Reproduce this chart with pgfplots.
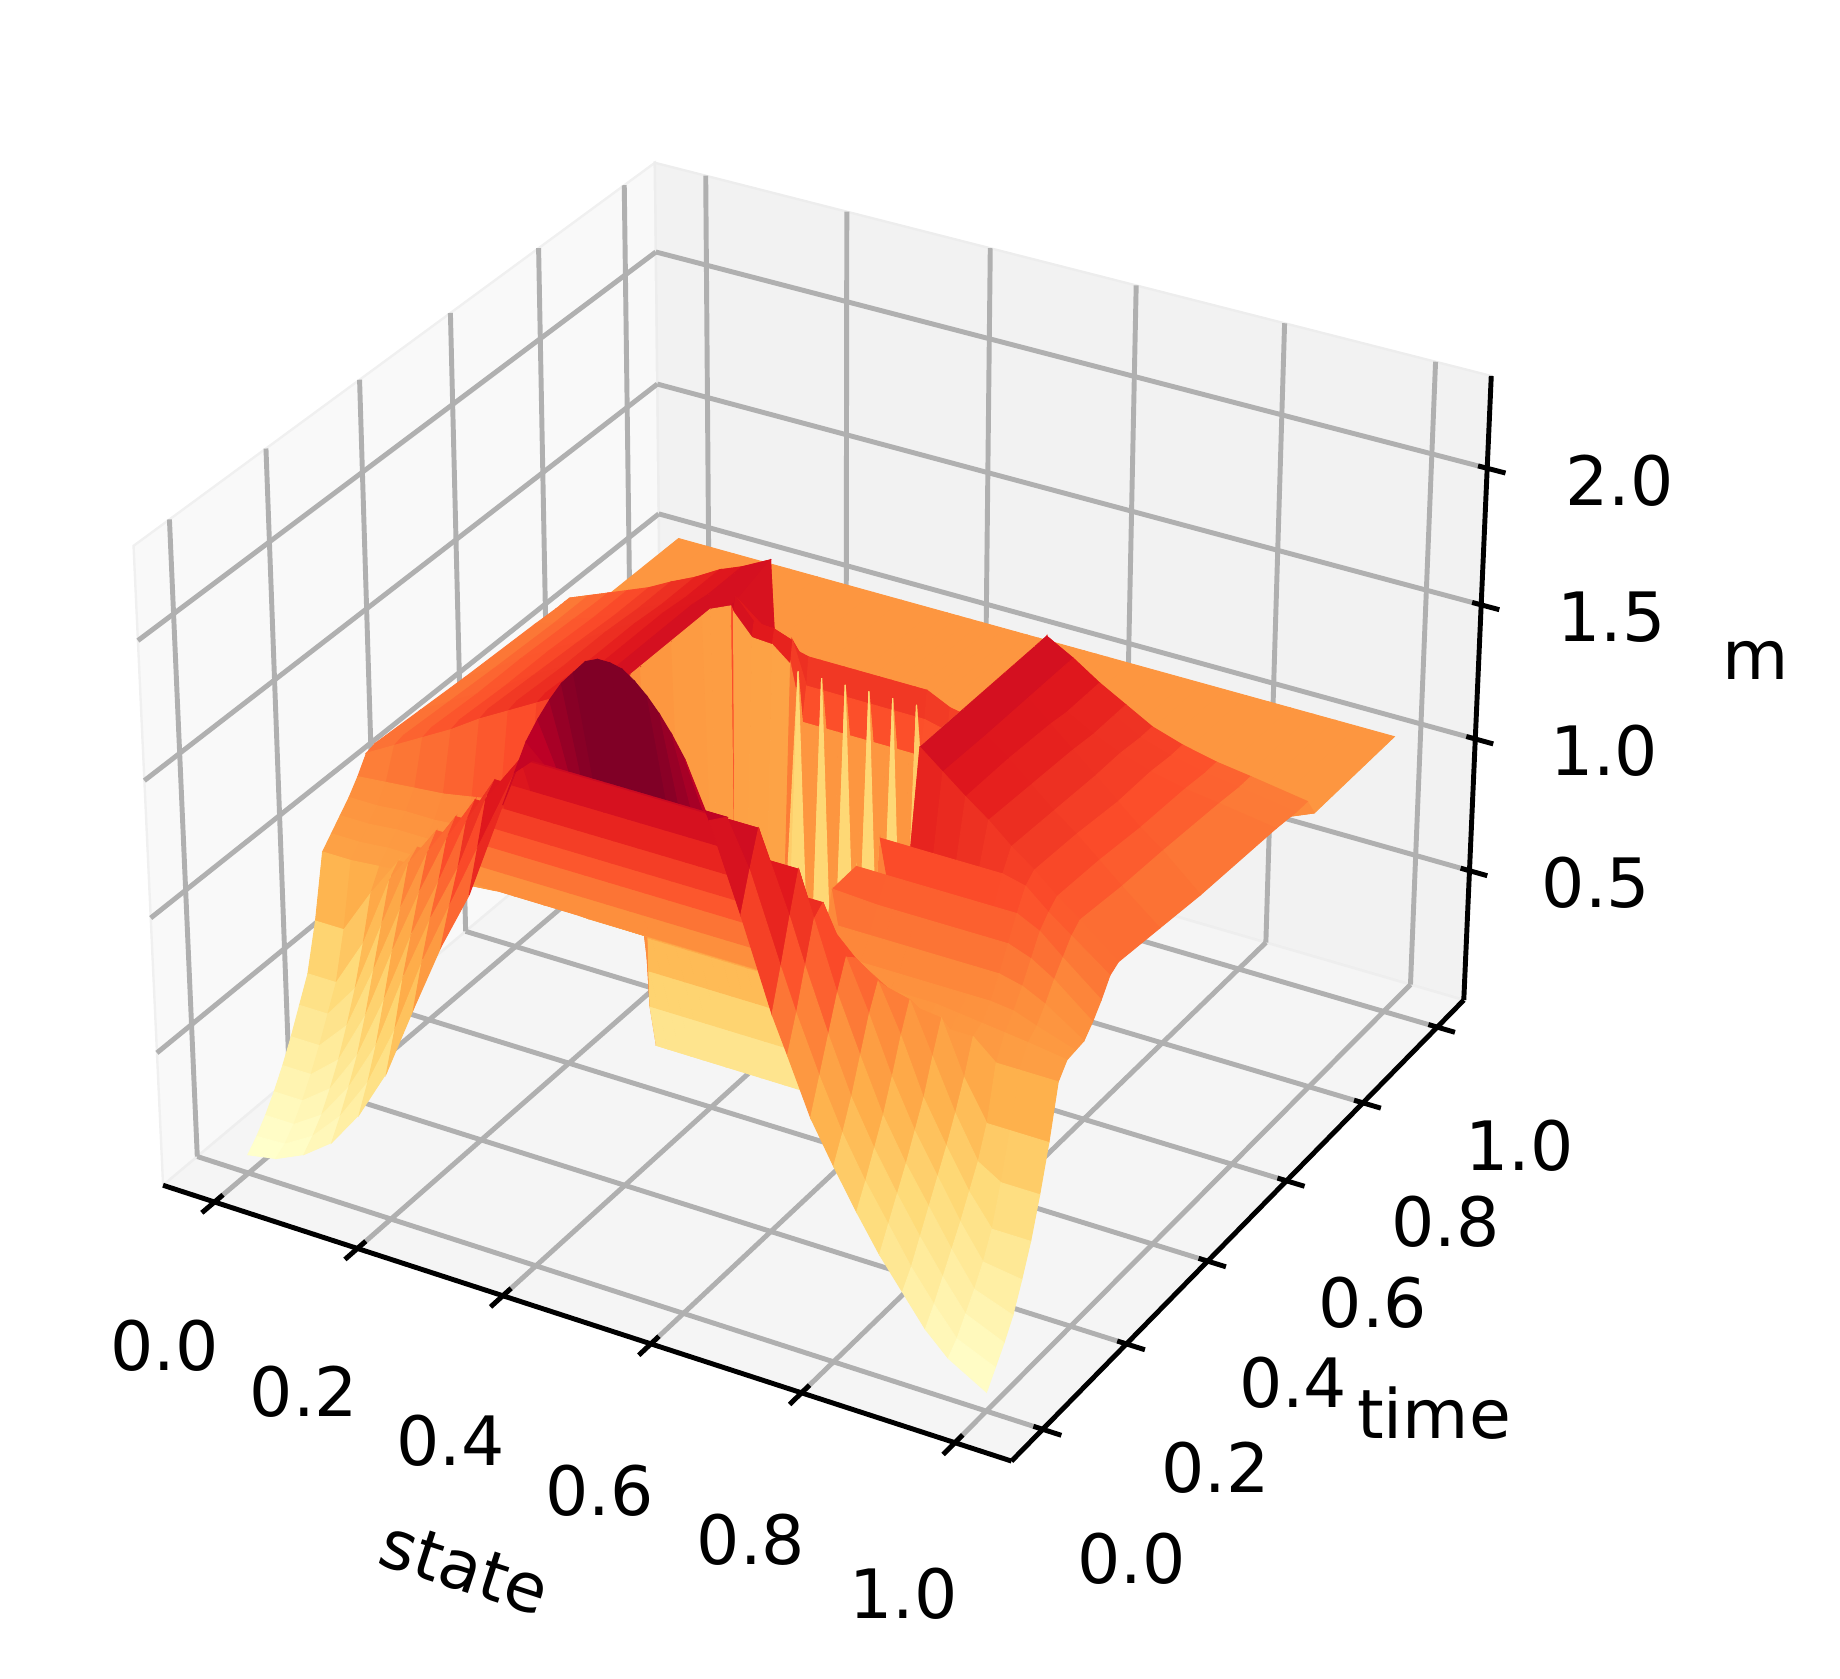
\documentclass[border=0pt]{standalone}
\usepackage{fontspec}
\setmainfont{DejaVu Sans}
\usepackage{pgfplots}
\usepackage{pgfplotstable}
\pgfplotsset{compat=1.18}
% matplotlib's perspective view (elev 30, azim -60), in pixels of the 1568x1430 frame
\newcommand\PX[3]{703+7250*(.8638*((#1)-.5)+.4987*((#2)-.5))/(10-(.4319*((#1)-.5)-.7481*((#2)-.5)+.5*(.36735*(#3)-.42857)))}
\newcommand\PY[3]{666.3-7250*(-.2494*((#1)-.5)+.4319*((#2)-.5)+.866*(.36735*(#3)-.42857))/(10-(.4319*((#1)-.5)-.7481*((#2)-.5)+.5*(.36735*(#3)-.42857)))}
\pgfkeys{/pgfplots/table/proj/.style={x expr={\PX{\thisrow{x}}{\thisrow{y}}{\thisrow{z}}},y expr={\PY{\thisrow{x}}{\thisrow{y}}{\thisrow{z}}}}}
\newcommand\seg[7]{\addplot[#1] table[row sep=\\,proj] {x y z\\ #2 #3 #4\\ #5 #6 #7\\};}
\newcommand\pane[3]{\addplot[fill=#1,draw=#2,line width=1pt] table[row sep=\\,proj] {x y z\\ #3};}
\definecolor{gridc}{RGB}{176,176,176}
\tikzset{tl/.style={font=\fontsize{29}{35}\selectfont}}
\pgfplotstableread{
x y z
0 1 1.05
.04 1 1.05
.08 1 1.05
.12 1 1.05
.16 1 1.05
.2 1 1.05
.24 1 1.05
.28 1 1.05
.32 1 1.05
.368 1 1.05
.385 1 1.05
.401 1 1.05
.417 1 1.05
.433 1 1.05
.449 1 1.05
.465 1 1.05
.481 1 1.05
.497 1 1.05
.513 1 1.05
.529 1 1.05
.545 1 1.05
.561 1 1.05
.577 1 1.05
.593 1 1.05
.609 1 1.05
.64 1 1.05
.68 1 1.05
.72 1 1.05
.74 1 1.05
.77 1 1.05
.80 1 1.05
.83 1 1.05
.86 1 1.05
.89 1 1.05
.92 1 1.05
.95 1 1.05
1 1 1.05
0 .76 1.05
.04 .74 1.05
.08 .72 1.05
.12 .70 1.05
.16 .685 1.05
.2 .67 1.05
.24 .66 1.05
.28 .65 1.05
.32 .635 1.05
.368 .62 1.05
.385 .61 1.05
.401 .59 1.05
.417 .59 1.05
.433 .59 1.05
.449 .58 1.05
.465 .58 1.05
.481 .58 1.05
.497 .58 1.05
.513 .58 1.05
.529 .58 1.05
.545 .58 1.05
.561 .58 1.05
.577 .58 1.05
.593 .58 1.05
.609 .58 1.05
.64 .58 1.05
.68 .58 1.05
.72 .58 1.05
.74 .62 1.05
.77 .63 1.05
.80 .64 1.05
.83 .65 1.05
.86 .66 1.05
.89 .68 1.05
.92 .71 1.05
.95 .74 1.05
1 .79 1.05
0 .74 1.155
.04 .72 1.22
.08 .70 1.285
.12 .68 1.35
.16 .665 1.41
.2 .65 1.48
.24 .64 1.54
.28 .63 1.61
.32 .615 1.67
.368 .60 1.75
.385 .58 1.5
.401 .56 1.55
.417 .56 1.52
.433 .555 1.52
.449 .55 1.52
.465 .55 1.52
.481 .55 1.52
.497 .55 1.52
.513 .55 1.52
.529 .55 1.52
.545 .55 1.52
.561 .55 1.52
.577 .55 1.52
.593 .55 1.52
.609 .55 1.52
.64 .55 1.48
.68 .55 1.46
.72 .55 1.44
.74 .60 1.75
.77 .61 1.68
.80 .62 1.60
.83 .63 1.53
.86 .64 1.46
.89 .66 1.39
.92 .69 1.31
.95 .72 1.24
1 .77 1.12
0 .73 1.155
.04 .71 1.22
.08 .69 1.285
.12 .67 1.35
.16 .655 1.41
.2 .64 1.48
.24 .63 1.54
.28 .62 1.61
.32 .605 1.67
.3845 .49 1.75
.385 .49 1.77
.401 .505 1.67
.417 .525 1.63
.433 .54 1.58
.449 .545 1.42
.465 .545 1.42
.481 .545 1.42
.497 .545 1.42
.513 .545 1.42
.529 .545 1.42
.545 .545 1.42
.561 .545 1.42
.577 .545 1.42
.593 .545 1.42
.609 .545 1.42
.64 .545 1.40
.68 .545 1.38
.72 .545 1.36
.74 .59 1.75
.77 .60 1.68
.80 .61 1.60
.83 .62 1.53
.86 .63 1.46
.89 .65 1.39
.92 .68 1.31
.95 .71 1.24
1 .76 1.12
0 .72 1.155
.04 .70 1.22
.08 .68 1.285
.12 .66 1.35
.16 .645 1.41
.2 .63 1.48
.24 .62 1.54
.28 .61 1.61
.32 .595 1.67
.3845 .48 1.75
.385 .485 1.72
.401 .50 1.62
.417 .52 1.58
.433 .535 1.5
.449 .535 1.3
.465 .535 1.3
.481 .535 1.3
.497 .535 1.3
.513 .535 1.3
.529 .535 1.3
.545 .535 1.3
.561 .535 1.3
.577 .535 1.3
.593 .535 1.3
.609 .535 1.3
.64 .535 1.28
.68 .535 1.28
.72 .535 1.28
.74 .58 1.75
.77 .59 1.68
.80 .60 1.60
.83 .61 1.53
.86 .62 1.46
.89 .64 1.39
.92 .67 1.31
.95 .70 1.24
1 .75 1.12
0 .71 1.155
.04 .69 1.22
.08 .67 1.285
.12 .65 1.35
.16 .635 1.41
.2 .62 1.48
.24 .61 1.54
.28 .60 1.61
.32 .585 1.67
.3845 .479 1.75
.385 .484 .25
.401 .48 .3
.417 .50 .35
.433 .515 .4
.449 .525 1.5
.465 .525 .1
.481 .525 1.5
.497 .525 .1
.513 .525 1.5
.529 .525 .1
.545 .525 1.5
.561 .525 .1
.577 .525 1.5
.593 .525 .1
.609 .525 1.5
.64 .525 .4
.68 .525 .4
.72 .525 .4
.74 .57 1.75
.77 .58 1.68
.80 .59 1.60
.83 .60 1.53
.86 .61 1.46
.89 .63 1.39
.92 .66 1.31
.95 .69 1.24
1 .74 1.12
0 .66 1.16
.04 .64 1.22
.08 .62 1.29
.12 .60 1.35
.16 .585 1.41
.2 .57 1.48
.24 .56 1.54
.28 .55 1.61
.32 .535 1.67
.368 .46 1.75
.385 .45 .25
.401 .47 .3
.417 .485 .35
.433 .495 .4
.449 .50 .42
.465 .50 .42
.481 .50 .42
.497 .50 .42
.513 .50 .42
.529 .50 .42
.545 .50 .42
.561 .50 .42
.577 .50 .42
.593 .50 .42
.609 .50 .42
.64 .50 .42
.68 .50 .42
.72 .50 .42
.74 .52 1.75
.77 .53 1.68
.80 .54 1.60
.83 .55 1.53
.86 .56 1.47
.89 .58 1.40
.92 .61 1.32
.95 .64 1.25
1 .69 1.13
0 .5 1.17
.04 .5 1.23
.08 .5 1.30
.12 .5 1.36
.16 .5 1.42
.2 .5 1.49
.24 .5 1.55
.28 .5 1.62
.32 .5 1.68
.368 .44 1.75
.385 .44 .25
.401 .44 .40
.417 .44 .40
.433 .44 .40
.449 .44 .40
.465 .44 .40
.481 .44 .40
.497 .44 .40
.513 .44 .40
.529 .44 .40
.545 .44 .40
.561 .44 .40
.577 .44 .40
.593 .44 .40
.609 .44 .40
.64 .44 .40
.68 .44 .40
.72 .44 .40
.74 .5 1.75
.77 .5 1.68
.80 .5 1.61
.83 .5 1.54
.86 .5 1.47
.89 .5 1.40
.92 .5 1.33
.95 .5 1.27
1 .5 1.15
0 .4 1.18
.04 .4 1.24
.08 .4 1.30
.12 .4 1.36
.16 .4 1.43
.2 .4 1.49
.24 .4 1.55
.28 .4 1.62
.32 .4 1.68
.368 .37 1.75
.385 .37 .3
.401 .37 .38
.417 .37 .38
.433 .37 .38
.449 .37 .38
.465 .37 .38
.481 .37 .38
.497 .37 .38
.513 .37 .38
.529 .37 .38
.545 .37 .38
.561 .37 .38
.577 .37 .38
.593 .37 .38
.609 .37 .38
.64 .37 .38
.68 .37 .38
.72 .37 .38
.74 .4 1.75
.77 .4 1.68
.80 .4 1.62
.83 .4 1.55
.86 .4 1.48
.89 .4 1.42
.92 .4 1.35
.95 .4 1.28
1 .4 1.17
0 .3 1.19
.04 .3 1.25
.08 .3 1.31
.12 .3 1.37
.16 .3 1.44
.2 .3 1.50
.24 .3 1.56
.28 .3 1.62
.32 .3 1.68
.368 .3 1.75
.385 .3 .37
.401 .3 .37
.417 .3 .37
.433 .3 .37
.449 .3 .37
.465 .3 .37
.481 .3 .37
.497 .3 .37
.513 .3 .37
.529 .3 .37
.545 .3 .37
.561 .3 .37
.577 .3 .37
.593 .3 .37
.609 .3 .37
.64 .3 .37
.68 .3 .37
.72 .3 .37
.74 .3 1.75
.77 .3 1.685
.80 .3 1.62
.83 .3 1.56
.86 .3 1.49
.89 .3 1.43
.92 .3 1.36
.95 .3 1.30
1 .3 1.19
0 .28 1.18
.04 .28 1.24
.08 .28 1.30
.12 .28 1.36
.16 .28 1.43
.2 .28 1.49
.24 .28 1.55
.28 .28 1.61
.32 .28 1.67
.368 .28 1.75
.389 .28 .55
.401 .28 .55
.417 .28 .55
.433 .28 .55
.449 .28 .55
.465 .28 .55
.481 .28 .55
.497 .28 .55
.513 .28 .55
.529 .28 .55
.545 .28 .55
.561 .28 .55
.577 .28 .55
.593 .28 .55
.609 .28 .55
.64 .28 .55
.68 .28 .55
.70 .28 1.42
.74 .28 1.42
.77 .28 1.42
.80 .28 1.42
.83 .28 1.42
.86 .28 1.42
.89 .28 1.40
.92 .28 1.33
.95 .28 1.27
1 .28 1.17
0 .26 1.12
.04 .26 1.13
.08 .26 1.14
.12 .26 1.15
.16 .26 1.17
.2 .26 1.19
.24 .26 1.23
.28 .26 1.29
.32 .26 1.37
.368 .26 1.5
.40 .26 .72
.401 .26 .72
.417 .26 .72
.433 .26 .72
.449 .26 .72
.465 .26 .72
.481 .26 .72
.497 .26 .72
.513 .26 .72
.529 .26 .72
.545 .26 .72
.561 .26 .72
.577 .26 .72
.593 .26 .72
.609 .26 .72
.64 .26 .72
.68 .26 1.33
.72 .26 1.33
.74 .26 1.33
.77 .26 1.33
.80 .26 1.33
.83 .26 1.33
.86 .26 1.33
.89 .26 1.33
.92 .26 1.29
.95 .26 1.22
1 .26 1.11
0 .24 1.07
.04 .24 1.07
.08 .24 1.08
.12 .24 1.08
.16 .24 1.09
.2 .24 1.11
.24 .24 1.14
.28 .24 1.18
.32 .24 1.23
.368 .24 1.3
.412 .24 .88
.412 .24 .88
.417 .24 .88
.433 .24 .88
.449 .24 .88
.465 .24 .88
.481 .24 .88
.497 .24 .88
.513 .24 .88
.529 .24 .88
.545 .24 .88
.561 .24 .88
.577 .24 .88
.593 .24 .88
.609 .24 .88
.64 .24 .88
.66 .24 1.26
.72 .24 1.25
.74 .24 1.25
.77 .24 1.25
.80 .24 1.25
.83 .24 1.25
.86 .24 1.25
.89 .24 1.25
.92 .24 1.22
.95 .24 1.17
1 .24 1.06
0 .22 1.03
.04 .22 1.03
.08 .22 1.04
.12 .22 1.04
.16 .22 1.05
.2 .22 1.06
.24 .22 1.08
.28 .22 1.11
.32 .22 1.14
.368 .22 1.18
.423 .22 .94
.423 .22 .94
.423 .22 .94
.433 .22 .94
.449 .22 .94
.465 .22 .94
.481 .22 .94
.497 .22 .94
.513 .22 .94
.529 .22 .94
.545 .22 .94
.561 .22 .94
.577 .22 .94
.593 .22 .94
.609 .22 .94
.64 .22 1.18
.68 .22 1.17
.72 .22 1.17
.74 .22 1.17
.77 .22 1.17
.80 .22 1.17
.83 .22 1.17
.86 .22 1.17
.89 .22 1.17
.92 .22 1.15
.95 .22 1.11
1 .22 1.02
0 .20 .99
.04 .20 .99
.08 .20 1.0
.12 .20 1.0
.16 .20 1.01
.2 .20 1.02
.24 .20 1.04
.28 .20 1.06
.32 .20 1.08
.368 .20 1.08
.435 .20 .97
.435 .20 .97
.435 .20 .97
.435 .20 .97
.449 .20 .97
.465 .20 .97
.481 .20 .97
.497 .20 .97
.513 .20 .97
.529 .20 .97
.545 .20 .97
.561 .20 .97
.577 .20 .97
.593 .20 .97
.609 .20 .97
.62 .20 1.10
.68 .20 1.10
.72 .20 1.10
.74 .20 1.10
.77 .20 1.10
.80 .20 1.10
.83 .20 1.10
.86 .20 1.10
.89 .20 1.10
.92 .20 1.09
.95 .20 1.06
1 .20 1.015
0 .18 .95
.04 .18 .95
.08 .18 .96
.12 .18 .97
.16 .18 .98
.2 .18 .99
.24 .18 1.0
.28 .18 1.02
.32 .18 1.03
.368 .18 1.0
.446 .18 1.0
.446 .18 1.0
.446 .18 1.0
.446 .18 1.0
.449 .18 1.0
.465 .18 1.0
.481 .18 1.0
.497 .18 1.0
.513 .18 1.0
.529 .18 1.0
.545 .18 1.0
.561 .18 1.0
.577 .18 1.0
.593 .18 1.0
.609 .18 1.05
.64 .18 1.06
.68 .18 1.07
.72 .18 1.07
.74 .18 1.07
.77 .18 1.07
.80 .18 1.07
.83 .18 1.07
.86 .18 1.06
.89 .18 1.05
.92 .18 1.04
.95 .18 1.03
1 .18 1.01
0 .16 .72
.04 .16 .72
.08 .16 .89
.12 .16 1.04
.16 .16 1.04
.2 .16 1.04
.24 .16 1.04
.28 .16 1.04
.32 .16 1.04
.368 .16 1.04
.385 .16 1.04
.401 .16 1.04
.417 .16 1.04
.433 .16 1.04
.449 .16 1.04
.465 .16 1.04
.481 .16 1.04
.497 .16 1.04
.513 .16 1.04
.529 .16 1.04
.545 .16 1.04
.561 .16 1.04
.577 .16 1.04
.593 .16 1.04
.609 .16 1.04
.64 .16 1.04
.68 .16 1.04
.72 .16 1.04
.74 .16 1.04
.77 .16 1.04
.80 .16 1.04
.83 .16 1.04
.86 .16 1.03
.89 .16 1.03
.92 .16 .96
.95 .16 .96
1 .16 .96
0 .14 .55
.04 .14 .55
.08 .14 .73
.12 .14 1.0
.16 .14 1.15
.2 .14 1.15
.24 .14 1.15
.28 .14 1.15
.32 .14 1.15
.368 .14 1.15
.385 .14 1.15
.401 .14 1.15
.417 .14 1.15
.433 .14 1.15
.449 .14 1.15
.465 .14 1.15
.481 .14 1.15
.497 .14 1.15
.513 .14 1.15
.529 .14 1.15
.545 .14 1.15
.561 .14 1.15
.577 .14 1.15
.593 .14 1.15
.609 .14 1.15
.64 .14 1.15
.68 .14 1.15
.72 .14 1.15
.74 .14 1.15
.77 .14 1.15
.80 .14 1.13
.83 .14 1.11
.86 .14 1.10
.89 .14 .91
.92 .14 .77
.95 .14 .77
1 .14 .77
0 .12 .46
.04 .12 .46
.08 .12 .59
.12 .12 .86
.16 .12 1.12
.2 .12 1.27
.24 .12 1.27
.28 .12 1.27
.32 .12 1.27
.368 .12 1.27
.385 .12 1.27
.401 .12 1.27
.417 .12 1.27
.433 .12 1.27
.449 .12 1.27
.465 .12 1.27
.481 .12 1.27
.497 .12 1.27
.513 .12 1.27
.529 .12 1.27
.545 .12 1.27
.561 .12 1.27
.577 .12 1.27
.593 .12 1.27
.609 .12 1.27
.64 .12 1.27
.68 .12 1.27
.72 .12 1.27
.74 .12 1.27
.77 .12 1.24
.80 .12 1.19
.83 .12 1.17
.86 .12 .99
.89 .12 .81
.92 .12 .66
.95 .12 .61
1 .12 .61
0 .10 .37
.04 .10 .37
.08 .10 .48
.12 .10 .72
.16 .10 .98
.2 .10 1.22
.24 .10 1.38
.28 .10 1.38
.32 .10 1.38
.368 .10 1.38
.385 .10 1.38
.401 .10 1.38
.417 .10 1.38
.433 .10 1.38
.449 .10 1.38
.465 .10 1.38
.481 .10 1.38
.497 .10 1.38
.513 .10 1.38
.529 .10 1.38
.545 .10 1.38
.561 .10 1.38
.577 .10 1.38
.593 .10 1.38
.609 .10 1.38
.64 .10 1.38
.68 .10 1.38
.72 .10 1.38
.74 .10 1.38
.77 .10 1.3
.80 .10 1.24
.83 .10 1.07
.86 .10 .87
.89 .10 .72
.92 .10 .58
.95 .10 .47
1 .10 .47
0 .08 .29
.04 .08 .29
.08 .08 .38
.12 .08 .58
.16 .08 .85
.2 .08 1.1
.24 .08 1.33
.28 .08 1.5
.32 .08 1.5
.368 .08 1.5
.385 .08 1.5
.401 .08 1.5
.417 .08 1.5
.433 .08 1.5
.449 .08 1.5
.465 .08 1.5
.481 .08 1.5
.497 .08 1.5
.513 .08 1.5
.529 .08 1.5
.545 .08 1.5
.561 .08 1.5
.577 .08 1.5
.593 .08 1.5
.609 .08 1.5
.64 .08 1.5
.68 .08 1.5
.72 .08 1.5
.74 .08 1.5
.77 .08 1.33
.80 .08 1.15
.83 .08 .95
.86 .08 .78
.89 .08 .64
.92 .08 .5
.95 .08 .38
1 .08 .36
0 .06 .22
.04 .06 .22
.08 .06 .3
.12 .06 .46
.16 .06 .7
.2 .06 .97
.24 .06 1.2
.28 .06 1.45
.32 .06 1.63
.368 .06 1.63
.385 .06 1.63
.401 .06 1.63
.417 .06 1.63
.433 .06 1.63
.449 .06 1.63
.465 .06 1.63
.481 .06 1.63
.497 .06 1.63
.513 .06 1.63
.529 .06 1.63
.545 .06 1.63
.561 .06 1.63
.577 .06 1.63
.593 .06 1.63
.609 .06 1.63
.64 .06 1.63
.68 .06 1.63
.72 .06 1.63
.74 .06 1.47
.77 .06 1.23
.80 .06 1.03
.83 .06 .84
.86 .06 .69
.89 .06 .56
.92 .06 .43
.95 .06 .31
1 .06 .26
0 .04 .16
.04 .04 .16
.08 .04 .23
.12 .04 .37
.16 .04 .56
.2 .04 .84
.24 .04 1.09
.28 .04 1.31
.32 .04 1.59
.368 .04 1.77
.385 .04 1.77
.401 .04 1.77
.417 .04 1.77
.433 .04 1.77
.449 .04 1.77
.465 .04 1.77
.481 .04 1.77
.497 .04 1.77
.513 .04 1.77
.529 .04 1.77
.545 .04 1.77
.561 .04 1.77
.577 .04 1.77
.593 .04 1.77
.609 .04 1.77
.64 .04 1.77
.68 .04 1.77
.72 .04 1.49
.74 .04 1.33
.77 .04 1.11
.80 .04 .91
.83 .04 .75
.86 .04 .61
.89 .04 .48
.92 .04 .36
.95 .04 .25
1 .04 .19
0 .02 .11
.04 .02 .115
.08 .02 .18
.12 .02 .29
.16 .02 .45
.2 .02 .68
.24 .02 .96
.28 .02 1.2
.32 .02 1.44
.368 .038 1.76
.385 .038 1.78
.401 .038 1.78
.417 .038 1.78
.433 .038 1.78
.449 .038 1.78
.465 .038 1.78
.481 .038 1.78
.497 .038 1.78
.513 .038 1.78
.529 .038 1.78
.545 .038 1.78
.561 .038 1.78
.577 .038 1.78
.593 .038 1.78
.609 .038 1.78
.64 .038 1.78
.68 .02 1.65
.72 .02 1.34
.74 .02 1.19
.77 .02 .99
.80 .02 .81
.83 .02 .66
.86 .02 .53
.89 .02 .40
.92 .02 .29
.95 .02 .19
1 .02 .13
0 0 .07
.04 0 .09
.08 0 .14
.12 0 .22
.16 0 .36
.2 0 .55
.24 0 .82
.28 0 1.08
.32 0 1.3
.368 0 1.66
.385 0 1.79
.401 0 1.91
.417 0 2.0
.433 0 2.08
.449 0 2.15
.465 0 2.2
.481 0 2.25
.497 0 2.27
.513 0 2.27
.529 0 2.26
.545 0 2.23
.561 0 2.19
.577 0 2.14
.593 0 2.08
.609 0 2.01
.64 0 1.82
.68 0 1.52
.72 0 1.2
.74 0 1.07
.77 0 .87
.80 0 .72
.83 0 .58
.86 0 .45
.89 0 .34
.92 0 .23
.95 0 .15
1 0 .07
}\surfdata
\begin{document}
\begin{tikzpicture}
\useasboundingbox (0,0) rectangle (784pt,715pt);
\begin{axis}[at={(0,0)},anchor=south west,scale only axis,width=784pt,height=715pt,
  hide axis,xmin=0,xmax=1568,ymin=0,ymax=1430,y dir=reverse,clip=false,
  colormap={ylorrd}{rgb255=(255,255,204) rgb255=(255,246,182) rgb255=(255,237,160) rgb255=(254,227,139) rgb255=(254,217,118) rgb255=(254,197,97) rgb255=(254,178,76) rgb255=(253,159,68) rgb255=(253,141,60) rgb255=(252,109,51) rgb255=(252,78,42) rgb255=(239,52,35) rgb255=(227,26,28) rgb255=(208,13,33) rgb255=(189,0,38) rgb255=(128,0,38) rgb255=(128,0,38) rgb255=(128,0,38)},
  point meta min=.1,point meta max=2.246]
% panes
\pane{black!2.5}{black!6}{-.0729 -.0729 0\\ -.0729 1.0729 0\\ -.0729 1.0729 2.333\\ -.0729 -.0729 2.333\\ -.0729 -.0729 0\\}
\pane{black!5}{black!7}{-.0729 1.0729 0\\ 1.0729 1.0729 0\\ 1.0729 1.0729 2.333\\ -.0729 1.0729 2.333\\ -.0729 1.0729 0\\}
\pane{black!3.75}{black!6.5}{-.0729 -.0729 0\\ 1.0729 -.0729 0\\ 1.0729 1.0729 0\\ -.0729 1.0729 0\\ -.0729 -.0729 0\\}
% grid
\pgfplotsinvokeforeach{0,.2,.4,.6,.8,1}{
  \seg{gridc,line width=2.1pt}{#1}{-.0729}{0}{#1}{1.0729}{0}
  \seg{gridc,line width=2.1pt}{#1}{1.0729}{0}{#1}{1.0729}{2.333}
  \seg{gridc,line width=2.1pt}{-.0729}{#1}{0}{1.0729}{#1}{0}
  \seg{gridc,line width=2.1pt}{-.0729}{#1}{0}{-.0729}{#1}{2.333}
}
\pgfplotsinvokeforeach{.5,1,1.5,2}{
  \seg{gridc,line width=2.1pt}{-.0729}{-.0729}{#1}{-.0729}{1.0729}{#1}
  \seg{gridc,line width=2.1pt}{-.0729}{1.0729}{#1}{1.0729}{1.0729}{#1}
}
% axis lines and ticks
\seg{black,line width=2.1pt}{-.0729}{-.0729}{0}{1.0729}{-.0729}{0}
\seg{black,line width=2.1pt}{1.0729}{-.0729}{0}{1.0729}{1.0729}{0}
\seg{black,line width=2.1pt}{1.0729}{1.0729}{0}{1.0729}{1.0729}{2.333}
\pgfplotsinvokeforeach{0,.2,.4,.6,.8,1}{
  \seg{black,line width=2.1pt}{#1}{-.0549}{0}{#1}{-.0999}{0}
  \seg{black,line width=2.1pt}{1.0609}{#1}{0}{1.0969}{#1}{0}
}
\pgfplotsinvokeforeach{.5,1,1.5,2}{
  \seg{black,line width=2.1pt}{1.0609}{1.0729}{#1}{1.0969}{1.0729}{#1}
}
% surface, rows from the back to the front
\addplot[surf,shader=flat mean,mesh/rows=25,mesh/cols=37,point meta=\thisrow{z}] table[proj] {\surfdata};
% text
\node[tl] at (axis cs:140,1147) {0.0};
\node[tl] at (axis cs:259,1186) {0.2};
\node[tl] at (axis cs:384,1228) {0.4};
\node[tl] at (axis cs:511,1270) {0.6};
\node[tl] at (axis cs:640,1312) {0.8};
\node[tl] at (axis cs:770,1358) {1.0};
\node[tl] at (axis cs:964,1328) {0.0};
\node[tl] at (axis cs:1036,1251) {0.2};
\node[tl] at (axis cs:1102,1178) {0.4};
\node[tl] at (axis cs:1170,1110) {0.6};
\node[tl] at (axis cs:1232,1041) {0.8};
\node[tl] at (axis cs:1295,976) {1.0};
\node[tl] at (axis cs:1360,752) {0.5};
\node[tl] at (axis cs:1367,640) {1.0};
\node[tl] at (axis cs:1373,526) {1.5};
\node[tl] at (axis cs:1380,410) {2.0};
\node[tl,rotate=-18] at (axis cs:396,1336) {state};
\node[tl] at (axis cs:1222,1204) {time};
\node[tl] at (axis cs:1496,563) {m};
\end{axis}
\end{tikzpicture}
\end{document}
